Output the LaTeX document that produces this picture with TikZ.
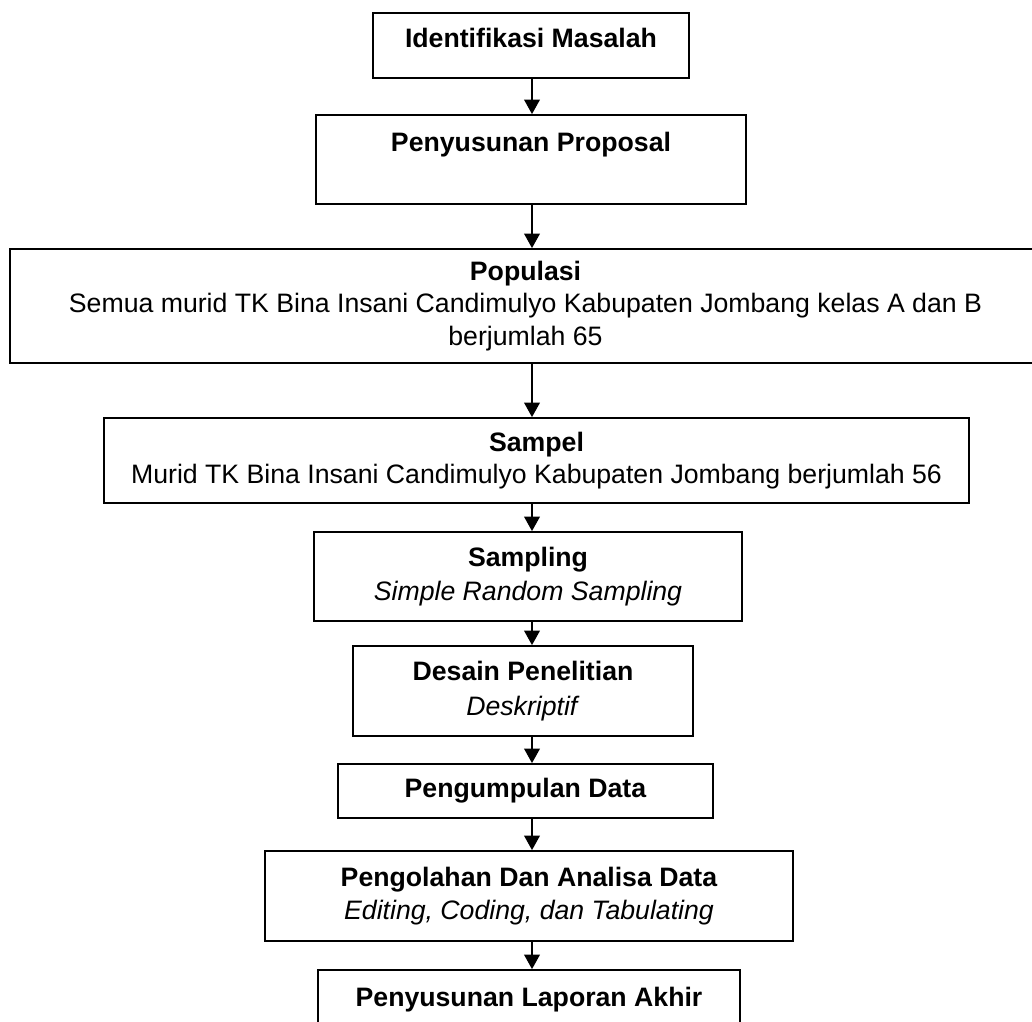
\documentclass[tikz,border=0pt]{standalone}
\usepackage{fontspec}
\setmainfont{Liberation Sans}
\usetikzlibrary{arrows.meta}
\tikzset{
  >={Triangle[width=7pt,length=6.5pt]},
  every node/.style={font=\fontsize{12}{14.6}\selectfont},
  % --- nodes
  box/.style  = {draw, line width=0.8pt, align=center, inner sep=2pt},
  % --- edges
  e/.style    = {->, line width=0.8pt},
}

\begin{document}
\begin{tikzpicture}[x=0.45pt,y=-0.45pt]
  \useasboundingbox (0,0) rectangle (1032,1021);
  \coordinate (spine) at (532,0);

  % one box per step, top to bottom
  \node[box, minimum width=142.2pt, minimum height=29.25pt, text depth=7pt]
    (b1) at (531,45.5) {\textbf{Identifikasi Masalah}};
  \node[box, minimum width=193.5pt, minimum height=40.05pt, text depth=15.8pt]
    (b2) at (531,159.5) {\textbf{Penyusunan Proposal}};
  \node[box, minimum width=463.95pt, minimum height=51.3pt]
    (b3) at (525.5,306) {\textbf{Populasi}\\
      Semua murid TK Bina Insani Candimulyo Kabupaten Jombang kelas A dan B\\
      berjumlah 65};
  \node[box, minimum width=389.25pt, minimum height=38.25pt]
    (b4) at (536.5,460.5) {\textbf{Sampel}\\
      Murid TK Bina Insani Candimulyo Kabupaten Jombang berjumlah 56};
  \node[box, minimum width=192.6pt, minimum height=40.05pt]
    (b5) at (528,576.5) {\textbf{Sampling}\\[1pt]\textit{Simple Random Sampling}};
  \node[box, minimum width=153pt, minimum height=40.5pt]
    (b6) at (523,691) {\textbf{Desain Penelitian}\\[1pt]\textit{Deskriptif}};
  \node[box, minimum width=168.75pt, minimum height=24.3pt]
    (b7) at (525.5,791) {\textbf{Pengumpulan Data}};
  \node[box, minimum width=237.6pt, minimum height=40.5pt]
    (b8) at (529,896) {\textbf{Pengolahan Dan Analisa Data}\\
      \textit{Editing, Coding, dan Tabulating}};
  \node[box, minimum width=189.9pt, minimum height=40.05pt, text depth=15.8pt]
    (b9) at (529,1014.5) {\textbf{Penyusunan Laporan Akhir}};

  % arrows down the middle
  \foreach \a/\b in {b1/b2,b2/b3,b3/b4,b4/b5,b5/b6,b6/b7,b7/b8,b8/b9}
    \draw[e] (\a.south -| spine) -- (\b.north -| spine);
\end{tikzpicture}
\end{document}
